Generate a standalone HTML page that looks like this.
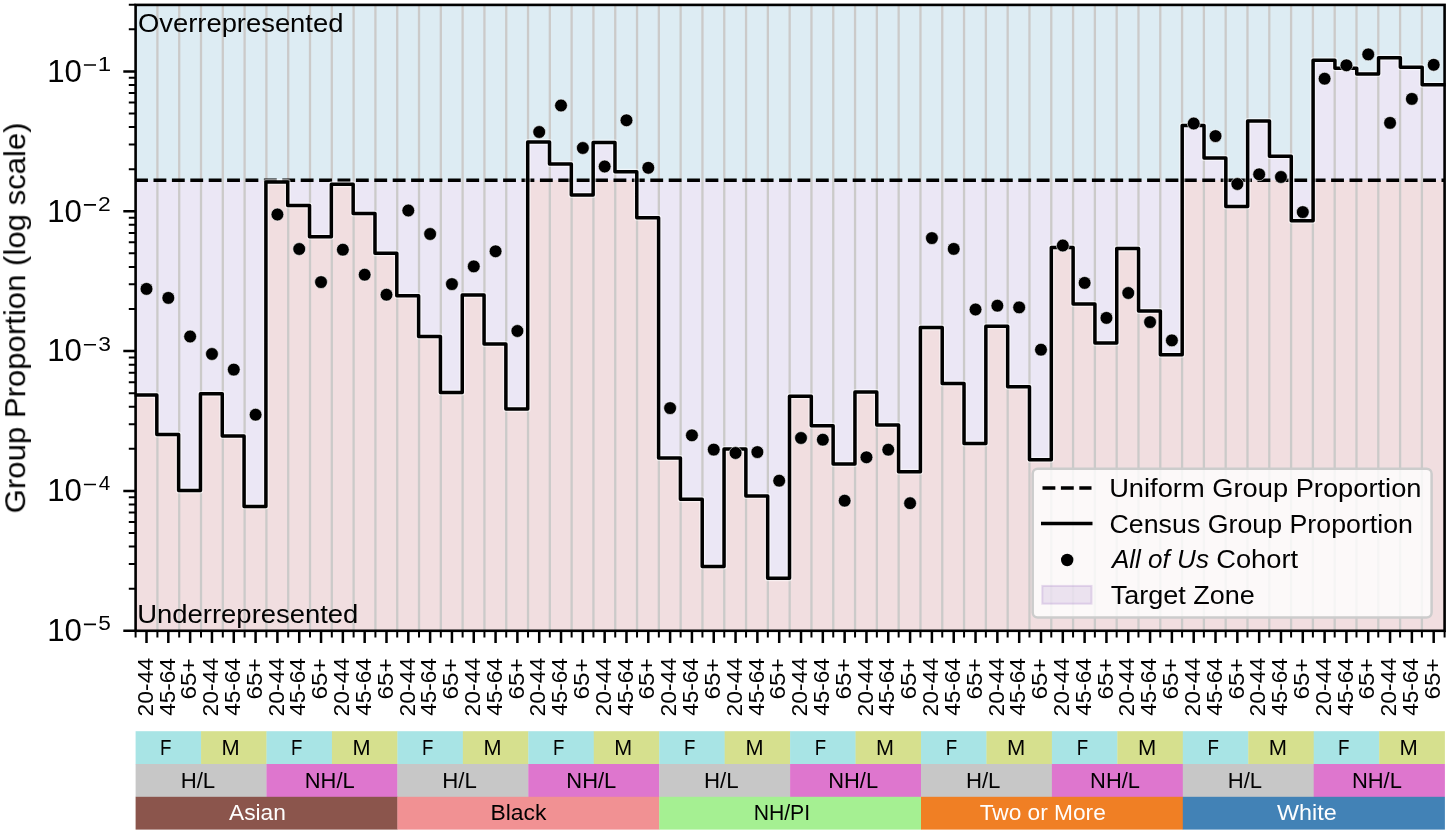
<!DOCTYPE html><html><head><meta charset="utf-8"><title>Group Proportion chart</title><style>html,body{margin:0;padding:0;background:#fff;overflow:hidden;}svg{display:block;}text{font-family:"Liberation Sans",sans-serif;}</style></head><body>
<svg width="1450" height="833" viewBox="0 0 1450 833">
<rect width="1450" height="833" fill="#ffffff"/>
<rect x="135.6" y="4.9" width="1309" height="625.9" fill="#ddecf3"/>
<path d="M135.6,630.8 L135.6,180.2 L156.82,180.2 L156.82,180.2 L178.63,180.2 L178.63,180.2 L200.45,180.2 L200.45,180.2 L222.27,180.2 L222.27,180.2 L244.08,180.2 L244.08,180.2 L265.9,180.2 L265.9,180.2 L287.72,180.2 L287.72,180.2 L309.53,180.2 L309.53,180.2 L331.35,180.2 L331.35,180.2 L353.17,180.2 L353.17,180.2 L374.98,180.2 L374.98,180.2 L396.8,180.2 L396.8,180.2 L418.62,180.2 L418.62,180.2 L440.43,180.2 L440.43,180.2 L462.25,180.2 L462.25,180.2 L484.07,180.2 L484.07,180.2 L505.88,180.2 L505.88,180.2 L527.7,180.2 L527.7,142.1 L549.52,142.1 L549.52,164 L571.33,164 L571.33,180.2 L593.15,180.2 L593.15,142.6 L614.97,142.6 L614.97,171.8 L636.78,171.8 L636.78,180.2 L658.6,180.2 L658.6,180.2 L680.42,180.2 L680.42,180.2 L702.23,180.2 L702.23,180.2 L724.05,180.2 L724.05,180.2 L745.87,180.2 L745.87,180.2 L767.68,180.2 L767.68,180.2 L789.5,180.2 L789.5,180.2 L811.32,180.2 L811.32,180.2 L833.13,180.2 L833.13,180.2 L854.95,180.2 L854.95,180.2 L876.77,180.2 L876.77,180.2 L898.58,180.2 L898.58,180.2 L920.4,180.2 L920.4,180.2 L942.22,180.2 L942.22,180.2 L964.03,180.2 L964.03,180.2 L985.85,180.2 L985.85,180.2 L1007.67,180.2 L1007.67,180.2 L1029.48,180.2 L1029.48,180.2 L1051.3,180.2 L1051.3,180.2 L1073.12,180.2 L1073.12,180.2 L1094.93,180.2 L1094.93,180.2 L1116.75,180.2 L1116.75,180.2 L1138.57,180.2 L1138.57,180.2 L1160.38,180.2 L1160.38,180.2 L1182.2,180.2 L1182.2,125.5 L1204.02,125.5 L1204.02,158 L1225.83,158 L1225.83,180.2 L1247.65,180.2 L1247.65,121 L1269.47,121 L1269.47,156.3 L1291.28,156.3 L1291.28,180.2 L1313.1,180.2 L1313.1,60.3 L1334.92,60.3 L1334.92,68.3 L1356.73,68.3 L1356.73,74 L1378.55,74 L1378.55,57.7 L1400.37,57.7 L1400.37,67.3 L1422.18,67.3 L1422.18,84.8 L1444.6,84.8 L1444.6,630.8 Z" fill="#ebe7f5"/>
<path d="M135.6,630.8 L135.6,395.1 L156.82,395.1 L156.82,434.6 L178.63,434.6 L178.63,490.6 L200.45,490.6 L200.45,393.8 L222.27,393.8 L222.27,436 L244.08,436 L244.08,506.4 L265.9,506.4 L265.9,182.1 L287.72,182.1 L287.72,205.6 L309.53,205.6 L309.53,236.7 L331.35,236.7 L331.35,184.3 L353.17,184.3 L353.17,213.4 L374.98,213.4 L374.98,253.3 L396.8,253.3 L396.8,295.8 L418.62,295.8 L418.62,336.6 L440.43,336.6 L440.43,392.5 L462.25,392.5 L462.25,295 L484.07,295 L484.07,344.1 L505.88,344.1 L505.88,409 L527.7,409 L527.7,180.2 L549.52,180.2 L549.52,180.2 L571.33,180.2 L571.33,195 L593.15,195 L593.15,180.2 L614.97,180.2 L614.97,180.2 L636.78,180.2 L636.78,217.7 L658.6,217.7 L658.6,458 L680.42,458 L680.42,499.2 L702.23,499.2 L702.23,566.6 L724.05,566.6 L724.05,449.1 L745.87,449.1 L745.87,496 L767.68,496 L767.68,578.3 L789.5,578.3 L789.5,396.3 L811.32,396.3 L811.32,425.7 L833.13,425.7 L833.13,464 L854.95,464 L854.95,392.1 L876.77,392.1 L876.77,425 L898.58,425 L898.58,471.7 L920.4,471.7 L920.4,327.5 L942.22,327.5 L942.22,383.4 L964.03,383.4 L964.03,443.4 L985.85,443.4 L985.85,326.2 L1007.67,326.2 L1007.67,386.7 L1029.48,386.7 L1029.48,459.7 L1051.3,459.7 L1051.3,247.6 L1073.12,247.6 L1073.12,304 L1094.93,304 L1094.93,343.1 L1116.75,343.1 L1116.75,248.5 L1138.57,248.5 L1138.57,311 L1160.38,311 L1160.38,354.7 L1182.2,354.7 L1182.2,180.2 L1204.02,180.2 L1204.02,180.2 L1225.83,180.2 L1225.83,206.4 L1247.65,206.4 L1247.65,180.2 L1269.47,180.2 L1269.47,180.2 L1291.28,180.2 L1291.28,220.7 L1313.1,220.7 L1313.1,180.2 L1334.92,180.2 L1334.92,180.2 L1356.73,180.2 L1356.73,180.2 L1378.55,180.2 L1378.55,180.2 L1400.37,180.2 L1400.37,180.2 L1422.18,180.2 L1422.18,180.2 L1444.6,180.2 L1444.6,630.8 Z" fill="#f1dee0"/>
<path d="M157.4,4.9V630.8M179.2,4.9V630.8M201.01,4.9V630.8M222.81,4.9V630.8M244.61,4.9V630.8M266.41,4.9V630.8M288.21,4.9V630.8M310.01,4.9V630.8M331.81,4.9V630.8M353.62,4.9V630.8M375.42,4.9V630.8M397.22,4.9V630.8M419.02,4.9V630.8M440.82,4.9V630.8M462.62,4.9V630.8M484.43,4.9V630.8M506.23,4.9V630.8M528.03,4.9V630.8M549.83,4.9V630.8M571.63,4.9V630.8M593.43,4.9V630.8M615.24,4.9V630.8M637.04,4.9V630.8M658.84,4.9V630.8M680.64,4.9V630.8M702.44,4.9V630.8M724.25,4.9V630.8M746.05,4.9V630.8M767.85,4.9V630.8M789.65,4.9V630.8M811.45,4.9V630.8M833.25,4.9V630.8M855.06,4.9V630.8M876.86,4.9V630.8M898.66,4.9V630.8M920.46,4.9V630.8M942.26,4.9V630.8M964.06,4.9V630.8M985.87,4.9V630.8M1007.67,4.9V630.8M1029.47,4.9V630.8M1051.27,4.9V630.8M1073.07,4.9V630.8M1094.87,4.9V630.8M1116.67,4.9V630.8M1138.48,4.9V630.8M1160.28,4.9V630.8M1182.08,4.9V630.8M1203.88,4.9V630.8M1225.68,4.9V630.8M1247.48,4.9V630.8M1269.29,4.9V630.8M1291.09,4.9V630.8M1312.89,4.9V630.8M1334.69,4.9V630.8M1356.49,4.9V630.8M1378.29,4.9V630.8M1400.1,4.9V630.8M1421.9,4.9V630.8" stroke="#cbcac9" stroke-width="2.3" fill="none"/>
<path d="M135.1,180.2H1444.6" stroke="#000" stroke-width="3.5" stroke-dasharray="12.85 5.55" fill="none"/>
<path d="M134.6,395.1 H156.82 V434.6 H178.63 V490.6 H200.45 V393.8 H222.27 V436 H244.08 V506.4 H265.9 V182.1 H287.72 V205.6 H309.53 V236.7 H331.35 V184.3 H353.17 V213.4 H374.98 V253.3 H396.8 V295.8 H418.62 V336.6 H440.43 V392.5 H462.25 V295 H484.07 V344.1 H505.88 V409 H527.7 V142.1 H549.52 V164 H571.33 V195 H593.15 V142.6 H614.97 V171.8 H636.78 V217.7 H658.6 V458 H680.42 V499.2 H702.23 V566.6 H724.05 V449.1 H745.87 V496 H767.68 V578.3 H789.5 V396.3 H811.32 V425.7 H833.13 V464 H854.95 V392.1 H876.77 V425 H898.58 V471.7 H920.4 V327.5 H942.22 V383.4 H964.03 V443.4 H985.85 V326.2 H1007.67 V386.7 H1029.48 V459.7 H1051.3 V247.6 H1073.12 V304 H1094.93 V343.1 H1116.75 V248.5 H1138.57 V311 H1160.38 V354.7 H1182.2 V125.5 H1204.02 V158 H1225.83 V206.4 H1247.65 V121 H1269.47 V156.3 H1291.28 V220.7 H1313.1 V60.3 H1334.92 V68.3 H1356.73 V74 H1378.55 V57.7 H1400.37 V67.3 H1422.18 V84.8 H1445.6" stroke="#ffffff" stroke-opacity="0.55" stroke-width="6" fill="none" stroke-linejoin="round"/>
<path d="M134.6,395.1 H156.82 V434.6 H178.63 V490.6 H200.45 V393.8 H222.27 V436 H244.08 V506.4 H265.9 V182.1 H287.72 V205.6 H309.53 V236.7 H331.35 V184.3 H353.17 V213.4 H374.98 V253.3 H396.8 V295.8 H418.62 V336.6 H440.43 V392.5 H462.25 V295 H484.07 V344.1 H505.88 V409 H527.7 V142.1 H549.52 V164 H571.33 V195 H593.15 V142.6 H614.97 V171.8 H636.78 V217.7 H658.6 V458 H680.42 V499.2 H702.23 V566.6 H724.05 V449.1 H745.87 V496 H767.68 V578.3 H789.5 V396.3 H811.32 V425.7 H833.13 V464 H854.95 V392.1 H876.77 V425 H898.58 V471.7 H920.4 V327.5 H942.22 V383.4 H964.03 V443.4 H985.85 V326.2 H1007.67 V386.7 H1029.48 V459.7 H1051.3 V247.6 H1073.12 V304 H1094.93 V343.1 H1116.75 V248.5 H1138.57 V311 H1160.38 V354.7 H1182.2 V125.5 H1204.02 V158 H1225.83 V206.4 H1247.65 V121 H1269.47 V156.3 H1291.28 V220.7 H1313.1 V60.3 H1334.92 V68.3 H1356.73 V74 H1378.55 V57.7 H1400.37 V67.3 H1422.18 V84.8 H1445.6" stroke="#000" stroke-width="3.5" fill="none" stroke-linejoin="round" stroke-linecap="butt"/>
<circle cx="146.51" cy="288.9" r="6.4" fill="#000" stroke="#ffffff" stroke-opacity="0.6" stroke-width="1"/>
<circle cx="168.32" cy="297.9" r="6.4" fill="#000" stroke="#ffffff" stroke-opacity="0.6" stroke-width="1"/>
<circle cx="190.14" cy="336.5" r="6.4" fill="#000" stroke="#ffffff" stroke-opacity="0.6" stroke-width="1"/>
<circle cx="211.96" cy="354" r="6.4" fill="#000" stroke="#ffffff" stroke-opacity="0.6" stroke-width="1"/>
<circle cx="233.77" cy="369.6" r="6.4" fill="#000" stroke="#ffffff" stroke-opacity="0.6" stroke-width="1"/>
<circle cx="255.59" cy="414.7" r="6.4" fill="#000" stroke="#ffffff" stroke-opacity="0.6" stroke-width="1"/>
<circle cx="277.41" cy="214.5" r="6.4" fill="#000" stroke="#ffffff" stroke-opacity="0.6" stroke-width="1"/>
<circle cx="299.23" cy="249" r="6.4" fill="#000" stroke="#ffffff" stroke-opacity="0.6" stroke-width="1"/>
<circle cx="321.04" cy="282.1" r="6.4" fill="#000" stroke="#ffffff" stroke-opacity="0.6" stroke-width="1"/>
<circle cx="342.86" cy="249.7" r="6.4" fill="#000" stroke="#ffffff" stroke-opacity="0.6" stroke-width="1"/>
<circle cx="364.67" cy="274.7" r="6.4" fill="#000" stroke="#ffffff" stroke-opacity="0.6" stroke-width="1"/>
<circle cx="386.49" cy="294.7" r="6.4" fill="#000" stroke="#ffffff" stroke-opacity="0.6" stroke-width="1"/>
<circle cx="408.31" cy="210.5" r="6.4" fill="#000" stroke="#ffffff" stroke-opacity="0.6" stroke-width="1"/>
<circle cx="430.12" cy="234" r="6.4" fill="#000" stroke="#ffffff" stroke-opacity="0.6" stroke-width="1"/>
<circle cx="451.94" cy="284.1" r="6.4" fill="#000" stroke="#ffffff" stroke-opacity="0.6" stroke-width="1"/>
<circle cx="473.76" cy="266.4" r="6.4" fill="#000" stroke="#ffffff" stroke-opacity="0.6" stroke-width="1"/>
<circle cx="495.58" cy="251.3" r="6.4" fill="#000" stroke="#ffffff" stroke-opacity="0.6" stroke-width="1"/>
<circle cx="517.39" cy="331" r="6.4" fill="#000" stroke="#ffffff" stroke-opacity="0.6" stroke-width="1"/>
<circle cx="539.21" cy="132" r="6.4" fill="#000" stroke="#ffffff" stroke-opacity="0.6" stroke-width="1"/>
<circle cx="561.02" cy="105.5" r="6.4" fill="#000" stroke="#ffffff" stroke-opacity="0.6" stroke-width="1"/>
<circle cx="582.84" cy="148" r="6.4" fill="#000" stroke="#ffffff" stroke-opacity="0.6" stroke-width="1"/>
<circle cx="604.66" cy="166.5" r="6.4" fill="#000" stroke="#ffffff" stroke-opacity="0.6" stroke-width="1"/>
<circle cx="626.48" cy="120.3" r="6.4" fill="#000" stroke="#ffffff" stroke-opacity="0.6" stroke-width="1"/>
<circle cx="648.29" cy="167.8" r="6.4" fill="#000" stroke="#ffffff" stroke-opacity="0.6" stroke-width="1"/>
<circle cx="670.11" cy="408.1" r="6.4" fill="#000" stroke="#ffffff" stroke-opacity="0.6" stroke-width="1"/>
<circle cx="691.93" cy="435.3" r="6.4" fill="#000" stroke="#ffffff" stroke-opacity="0.6" stroke-width="1"/>
<circle cx="713.74" cy="449.6" r="6.4" fill="#000" stroke="#ffffff" stroke-opacity="0.6" stroke-width="1"/>
<circle cx="735.56" cy="453" r="6.4" fill="#000" stroke="#ffffff" stroke-opacity="0.6" stroke-width="1"/>
<circle cx="757.38" cy="452.1" r="6.4" fill="#000" stroke="#ffffff" stroke-opacity="0.6" stroke-width="1"/>
<circle cx="779.19" cy="480.7" r="6.4" fill="#000" stroke="#ffffff" stroke-opacity="0.6" stroke-width="1"/>
<circle cx="801.01" cy="438" r="6.4" fill="#000" stroke="#ffffff" stroke-opacity="0.6" stroke-width="1"/>
<circle cx="822.83" cy="439.7" r="6.4" fill="#000" stroke="#ffffff" stroke-opacity="0.6" stroke-width="1"/>
<circle cx="844.64" cy="500.7" r="6.4" fill="#000" stroke="#ffffff" stroke-opacity="0.6" stroke-width="1"/>
<circle cx="866.46" cy="457.3" r="6.4" fill="#000" stroke="#ffffff" stroke-opacity="0.6" stroke-width="1"/>
<circle cx="888.27" cy="449.7" r="6.4" fill="#000" stroke="#ffffff" stroke-opacity="0.6" stroke-width="1"/>
<circle cx="910.09" cy="503.2" r="6.4" fill="#000" stroke="#ffffff" stroke-opacity="0.6" stroke-width="1"/>
<circle cx="931.91" cy="238.1" r="6.4" fill="#000" stroke="#ffffff" stroke-opacity="0.6" stroke-width="1"/>
<circle cx="953.73" cy="248.9" r="6.4" fill="#000" stroke="#ffffff" stroke-opacity="0.6" stroke-width="1"/>
<circle cx="975.54" cy="309.5" r="6.4" fill="#000" stroke="#ffffff" stroke-opacity="0.6" stroke-width="1"/>
<circle cx="997.36" cy="305.7" r="6.4" fill="#000" stroke="#ffffff" stroke-opacity="0.6" stroke-width="1"/>
<circle cx="1019.18" cy="307.4" r="6.4" fill="#000" stroke="#ffffff" stroke-opacity="0.6" stroke-width="1"/>
<circle cx="1040.99" cy="349.7" r="6.4" fill="#000" stroke="#ffffff" stroke-opacity="0.6" stroke-width="1"/>
<circle cx="1062.81" cy="245.5" r="6.4" fill="#000" stroke="#ffffff" stroke-opacity="0.6" stroke-width="1"/>
<circle cx="1084.62" cy="282.9" r="6.4" fill="#000" stroke="#ffffff" stroke-opacity="0.6" stroke-width="1"/>
<circle cx="1106.44" cy="317.9" r="6.4" fill="#000" stroke="#ffffff" stroke-opacity="0.6" stroke-width="1"/>
<circle cx="1128.26" cy="293" r="6.4" fill="#000" stroke="#ffffff" stroke-opacity="0.6" stroke-width="1"/>
<circle cx="1150.08" cy="322.1" r="6.4" fill="#000" stroke="#ffffff" stroke-opacity="0.6" stroke-width="1"/>
<circle cx="1171.89" cy="340.4" r="6.4" fill="#000" stroke="#ffffff" stroke-opacity="0.6" stroke-width="1"/>
<circle cx="1193.71" cy="123.5" r="6.4" fill="#000" stroke="#ffffff" stroke-opacity="0.6" stroke-width="1"/>
<circle cx="1215.52" cy="136.1" r="6.4" fill="#000" stroke="#ffffff" stroke-opacity="0.6" stroke-width="1"/>
<circle cx="1237.34" cy="184" r="6.4" fill="#000" stroke="#ffffff" stroke-opacity="0.6" stroke-width="1"/>
<circle cx="1259.16" cy="174.3" r="6.4" fill="#000" stroke="#ffffff" stroke-opacity="0.6" stroke-width="1"/>
<circle cx="1280.97" cy="177" r="6.4" fill="#000" stroke="#ffffff" stroke-opacity="0.6" stroke-width="1"/>
<circle cx="1302.79" cy="212.1" r="6.4" fill="#000" stroke="#ffffff" stroke-opacity="0.6" stroke-width="1"/>
<circle cx="1324.61" cy="78.7" r="6.4" fill="#000" stroke="#ffffff" stroke-opacity="0.6" stroke-width="1"/>
<circle cx="1346.42" cy="65.3" r="6.4" fill="#000" stroke="#ffffff" stroke-opacity="0.6" stroke-width="1"/>
<circle cx="1368.24" cy="54.4" r="6.4" fill="#000" stroke="#ffffff" stroke-opacity="0.6" stroke-width="1"/>
<circle cx="1390.06" cy="122.9" r="6.4" fill="#000" stroke="#ffffff" stroke-opacity="0.6" stroke-width="1"/>
<circle cx="1411.88" cy="98.9" r="6.4" fill="#000" stroke="#ffffff" stroke-opacity="0.6" stroke-width="1"/>
<circle cx="1433.69" cy="64.8" r="6.4" fill="#000" stroke="#ffffff" stroke-opacity="0.6" stroke-width="1"/>
<rect x="1032.7" y="468.7" width="398.9" height="148.9" rx="5" ry="5" fill="#ffffff" fill-opacity="0.8" stroke="#cccccc" stroke-width="2.5"/>
<path d="M1042.5,488.1H1091.5" stroke="#000" stroke-width="3.5" stroke-dasharray="12.85 5.55" fill="none"/>
<path d="M1041,523.4H1092.5" stroke="#000" stroke-width="3.5" fill="none"/>
<circle cx="1067.2" cy="560" r="6.2" fill="#000"/>
<rect x="1042.3" y="585.9" width="49.2" height="17.8" fill="#9467bd" fill-opacity="0.16" stroke="#9467bd" stroke-opacity="0.22" stroke-width="2"/>
<rect x="135.6" y="4.9" width="1309" height="625.9" fill="none" stroke="#000" stroke-width="2.6"/>
<path d="M123.3,630.8H135.6M123.3,490.95H135.6M123.3,351.1H135.6M123.3,211.25H135.6M123.3,71.4H135.6" stroke="#000" stroke-width="2.5" fill="none"/>
<path d="M128.8,588.7H135.6M128.8,564.07H135.6M128.8,546.6H135.6M128.8,533.05H135.6M128.8,521.98H135.6M128.8,512.61H135.6M128.8,504.5H135.6M128.8,497.35H135.6M128.8,448.85H135.6M128.8,424.22H135.6M128.8,406.75H135.6M128.8,393.2H135.6M128.8,382.13H135.6M128.8,372.76H135.6M128.8,364.65H135.6M128.8,357.5H135.6M128.8,309H135.6M128.8,284.37H135.6M128.8,266.9H135.6M128.8,253.35H135.6M128.8,242.28H135.6M128.8,232.91H135.6M128.8,224.8H135.6M128.8,217.65H135.6M128.8,169.15H135.6M128.8,144.52H135.6M128.8,127.05H135.6M128.8,113.5H135.6M128.8,102.43H135.6M128.8,93.06H135.6M128.8,84.95H135.6M128.8,77.8H135.6M128.8,29.3H135.6M128.8,4.67H135.6" stroke="#000" stroke-width="2" fill="none"/>
<path d="M146.51,630.8V643M168.32,630.8V643M190.14,630.8V643M211.96,630.8V643M233.77,630.8V643M255.59,630.8V643M277.41,630.8V643M299.23,630.8V643M321.04,630.8V643M342.86,630.8V643M364.67,630.8V643M386.49,630.8V643M408.31,630.8V643M430.12,630.8V643M451.94,630.8V643M473.76,630.8V643M495.58,630.8V643M517.39,630.8V643M539.21,630.8V643M561.02,630.8V643M582.84,630.8V643M604.66,630.8V643M626.48,630.8V643M648.29,630.8V643M670.11,630.8V643M691.93,630.8V643M713.74,630.8V643M735.56,630.8V643M757.38,630.8V643M779.19,630.8V643M801.01,630.8V643M822.83,630.8V643M844.64,630.8V643M866.46,630.8V643M888.27,630.8V643M910.09,630.8V643M931.91,630.8V643M953.73,630.8V643M975.54,630.8V643M997.36,630.8V643M1019.18,630.8V643M1040.99,630.8V643M1062.81,630.8V643M1084.62,630.8V643M1106.44,630.8V643M1128.26,630.8V643M1150.08,630.8V643M1171.89,630.8V643M1193.71,630.8V643M1215.52,630.8V643M1237.34,630.8V643M1259.16,630.8V643M1280.97,630.8V643M1302.79,630.8V643M1324.61,630.8V643M1346.42,630.8V643M1368.24,630.8V643M1390.06,630.8V643M1411.88,630.8V643M1433.69,630.8V643" stroke="#000" stroke-width="2.5" fill="none"/>
<path d="M135.6,630.8V637.6M157.4,630.8V637.6M179.2,630.8V637.6M201.01,630.8V637.6M222.81,630.8V637.6M244.61,630.8V637.6M266.41,630.8V637.6M288.21,630.8V637.6M310.01,630.8V637.6M331.81,630.8V637.6M353.62,630.8V637.6M375.42,630.8V637.6M397.22,630.8V637.6M419.02,630.8V637.6M440.82,630.8V637.6M462.62,630.8V637.6M484.43,630.8V637.6M506.23,630.8V637.6M528.03,630.8V637.6M549.83,630.8V637.6M571.63,630.8V637.6M593.43,630.8V637.6M615.24,630.8V637.6M637.04,630.8V637.6M658.84,630.8V637.6M680.64,630.8V637.6M702.44,630.8V637.6M724.25,630.8V637.6M746.05,630.8V637.6M767.85,630.8V637.6M789.65,630.8V637.6M811.45,630.8V637.6M833.25,630.8V637.6M855.06,630.8V637.6M876.86,630.8V637.6M898.66,630.8V637.6M920.46,630.8V637.6M942.26,630.8V637.6M964.06,630.8V637.6M985.87,630.8V637.6M1007.67,630.8V637.6M1029.47,630.8V637.6M1051.27,630.8V637.6M1073.07,630.8V637.6M1094.87,630.8V637.6M1116.67,630.8V637.6M1138.48,630.8V637.6M1160.28,630.8V637.6M1182.08,630.8V637.6M1203.88,630.8V637.6M1225.68,630.8V637.6M1247.48,630.8V637.6M1269.29,630.8V637.6M1291.09,630.8V637.6M1312.89,630.8V637.6M1334.69,630.8V637.6M1356.49,630.8V637.6M1378.29,630.8V637.6M1400.1,630.8V637.6M1421.9,630.8V637.6M1444.6,630.8V637.6" stroke="#000" stroke-width="2" fill="none"/>
<path d="M83.9,624.4H96M83.9,484.55H96M83.9,344.7H96M83.9,204.85H96M83.9,65H96" stroke="#000" stroke-width="1.6" fill="none"/>
<rect x="135.6" y="731.2" width="65.75" height="33.1" fill="#a8e4e5"/>
<rect x="201.05" y="731.2" width="65.75" height="33.1" fill="#d6e08e"/>
<rect x="266.5" y="731.2" width="65.75" height="33.1" fill="#a8e4e5"/>
<rect x="331.95" y="731.2" width="65.75" height="33.1" fill="#d6e08e"/>
<rect x="397.4" y="731.2" width="65.75" height="33.1" fill="#a8e4e5"/>
<rect x="462.85" y="731.2" width="65.75" height="33.1" fill="#d6e08e"/>
<rect x="528.3" y="731.2" width="65.75" height="33.1" fill="#a8e4e5"/>
<rect x="593.75" y="731.2" width="65.75" height="33.1" fill="#d6e08e"/>
<rect x="659.2" y="731.2" width="65.75" height="33.1" fill="#a8e4e5"/>
<rect x="724.65" y="731.2" width="65.75" height="33.1" fill="#d6e08e"/>
<rect x="790.1" y="731.2" width="65.75" height="33.1" fill="#a8e4e5"/>
<rect x="855.55" y="731.2" width="65.75" height="33.1" fill="#d6e08e"/>
<rect x="921" y="731.2" width="65.75" height="33.1" fill="#a8e4e5"/>
<rect x="986.45" y="731.2" width="65.75" height="33.1" fill="#d6e08e"/>
<rect x="1051.9" y="731.2" width="65.75" height="33.1" fill="#a8e4e5"/>
<rect x="1117.35" y="731.2" width="65.75" height="33.1" fill="#d6e08e"/>
<rect x="1182.8" y="731.2" width="65.75" height="33.1" fill="#a8e4e5"/>
<rect x="1248.25" y="731.2" width="65.75" height="33.1" fill="#d6e08e"/>
<rect x="1313.7" y="731.2" width="65.75" height="33.1" fill="#a8e4e5"/>
<rect x="1379.15" y="731.2" width="65.75" height="33.1" fill="#d6e08e"/>
<rect x="135.6" y="764" width="131.2" height="33.1" fill="#c7c7c7"/>
<rect x="266.5" y="764" width="131.2" height="33.1" fill="#de76ce"/>
<rect x="397.4" y="764" width="131.2" height="33.1" fill="#c7c7c7"/>
<rect x="528.3" y="764" width="131.2" height="33.1" fill="#de76ce"/>
<rect x="659.2" y="764" width="131.2" height="33.1" fill="#c7c7c7"/>
<rect x="790.1" y="764" width="131.2" height="33.1" fill="#de76ce"/>
<rect x="921" y="764" width="131.2" height="33.1" fill="#c7c7c7"/>
<rect x="1051.9" y="764" width="131.2" height="33.1" fill="#de76ce"/>
<rect x="1182.8" y="764" width="131.2" height="33.1" fill="#c7c7c7"/>
<rect x="1313.7" y="764" width="131.2" height="33.1" fill="#de76ce"/>
<rect x="135.6" y="796.8" width="262.1" height="32.8" fill="#8b554c"/>
<rect x="397.4" y="796.8" width="262.1" height="32.8" fill="#f19193"/>
<rect x="659.2" y="796.8" width="262.1" height="32.8" fill="#a5f092"/>
<rect x="921" y="796.8" width="262.1" height="32.8" fill="#f07f24"/>
<rect x="1182.8" y="796.8" width="262.1" height="32.8" fill="#4282b6"/>
<g opacity="0.995">
<text x="138" y="32" font-size="25.73" textLength="205.39" lengthAdjust="spacingAndGlyphs" fill="#000">Overrepresented</text>
<text x="137.31" y="623.1" font-size="25.73" textLength="221.06" lengthAdjust="spacingAndGlyphs" fill="#000">Underrepresented</text>
<text x="1109.17" y="496.9" font-size="25.73" textLength="312.38" lengthAdjust="spacingAndGlyphs" fill="#000">Uniform Group Proportion</text>
<text x="1109.54" y="532.6" font-size="25.73" textLength="303.46" lengthAdjust="spacingAndGlyphs" fill="#000">Census Group Proportion</text>
<text x="1111.93" y="568.2" font-size="25.73" textLength="97" lengthAdjust="spacingAndGlyphs" fill="#000" font-style="italic">All of Us</text>
<text x="1216.21" y="568.2" font-size="25.73" textLength="81.86" lengthAdjust="spacingAndGlyphs" fill="#000">Cohort</text>
<text x="1110.8" y="603.8" font-size="25.73" textLength="144.06" lengthAdjust="spacingAndGlyphs" fill="#000">Target Zone</text>
<text transform="translate(25.2,513.35) rotate(-90)" font-size="29.68" textLength="390.93" lengthAdjust="spacingAndGlyphs" fill="#000">Group Proportion (log scale)</text>
<text x="47.21" y="641.1" font-size="30.66" textLength="34.7" lengthAdjust="spacingAndGlyphs" fill="#000">10</text>
<text x="98.2" y="630.3" font-size="20.78" textLength="12.62" lengthAdjust="spacingAndGlyphs" fill="#000">5</text>
<text x="47.21" y="501.25" font-size="30.66" textLength="34.7" lengthAdjust="spacingAndGlyphs" fill="#000">10</text>
<text x="98.73" y="490.45" font-size="20.78" textLength="11.55" lengthAdjust="spacingAndGlyphs" fill="#000">4</text>
<text x="47.21" y="361.4" font-size="30.66" textLength="34.7" lengthAdjust="spacingAndGlyphs" fill="#000">10</text>
<text x="98.18" y="350.6" font-size="20.78" textLength="12.71" lengthAdjust="spacingAndGlyphs" fill="#000">3</text>
<text x="47.21" y="221.55" font-size="30.66" textLength="34.7" lengthAdjust="spacingAndGlyphs" fill="#000">10</text>
<text x="98.11" y="210.75" font-size="20.78" textLength="12.74" lengthAdjust="spacingAndGlyphs" fill="#000">2</text>
<text x="47.21" y="81.7" font-size="30.66" textLength="34.7" lengthAdjust="spacingAndGlyphs" fill="#000">10</text>
<text x="97.66" y="70.9" font-size="20.78" textLength="13.41" lengthAdjust="spacingAndGlyphs" fill="#000">1</text>
<text transform="translate(152.71,716.46) rotate(-90)" font-size="21.2" textLength="58.68" lengthAdjust="spacingAndGlyphs" fill="#000">20-44</text>
<text transform="translate(174.53,715.86) rotate(-90)" font-size="21.2" textLength="57.68" lengthAdjust="spacingAndGlyphs" fill="#000">45-64</text>
<text transform="translate(196.34,699.4) rotate(-90)" font-size="21.2" textLength="40.98" lengthAdjust="spacingAndGlyphs" fill="#000">65+</text>
<text transform="translate(218.16,716.46) rotate(-90)" font-size="21.2" textLength="58.68" lengthAdjust="spacingAndGlyphs" fill="#000">20-44</text>
<text transform="translate(239.97,715.86) rotate(-90)" font-size="21.2" textLength="57.68" lengthAdjust="spacingAndGlyphs" fill="#000">45-64</text>
<text transform="translate(261.79,699.4) rotate(-90)" font-size="21.2" textLength="40.98" lengthAdjust="spacingAndGlyphs" fill="#000">65+</text>
<text transform="translate(283.61,716.46) rotate(-90)" font-size="21.2" textLength="58.68" lengthAdjust="spacingAndGlyphs" fill="#000">20-44</text>
<text transform="translate(305.43,715.86) rotate(-90)" font-size="21.2" textLength="57.68" lengthAdjust="spacingAndGlyphs" fill="#000">45-64</text>
<text transform="translate(327.24,699.4) rotate(-90)" font-size="21.2" textLength="40.98" lengthAdjust="spacingAndGlyphs" fill="#000">65+</text>
<text transform="translate(349.06,716.46) rotate(-90)" font-size="21.2" textLength="58.68" lengthAdjust="spacingAndGlyphs" fill="#000">20-44</text>
<text transform="translate(370.87,715.86) rotate(-90)" font-size="21.2" textLength="57.68" lengthAdjust="spacingAndGlyphs" fill="#000">45-64</text>
<text transform="translate(392.69,699.4) rotate(-90)" font-size="21.2" textLength="40.98" lengthAdjust="spacingAndGlyphs" fill="#000">65+</text>
<text transform="translate(414.51,716.46) rotate(-90)" font-size="21.2" textLength="58.68" lengthAdjust="spacingAndGlyphs" fill="#000">20-44</text>
<text transform="translate(436.32,715.86) rotate(-90)" font-size="21.2" textLength="57.68" lengthAdjust="spacingAndGlyphs" fill="#000">45-64</text>
<text transform="translate(458.14,699.4) rotate(-90)" font-size="21.2" textLength="40.98" lengthAdjust="spacingAndGlyphs" fill="#000">65+</text>
<text transform="translate(479.96,716.46) rotate(-90)" font-size="21.2" textLength="58.68" lengthAdjust="spacingAndGlyphs" fill="#000">20-44</text>
<text transform="translate(501.78,715.86) rotate(-90)" font-size="21.2" textLength="57.68" lengthAdjust="spacingAndGlyphs" fill="#000">45-64</text>
<text transform="translate(523.59,699.4) rotate(-90)" font-size="21.2" textLength="40.98" lengthAdjust="spacingAndGlyphs" fill="#000">65+</text>
<text transform="translate(545.41,716.46) rotate(-90)" font-size="21.2" textLength="58.68" lengthAdjust="spacingAndGlyphs" fill="#000">20-44</text>
<text transform="translate(567.22,715.86) rotate(-90)" font-size="21.2" textLength="57.68" lengthAdjust="spacingAndGlyphs" fill="#000">45-64</text>
<text transform="translate(589.04,699.4) rotate(-90)" font-size="21.2" textLength="40.98" lengthAdjust="spacingAndGlyphs" fill="#000">65+</text>
<text transform="translate(610.86,716.46) rotate(-90)" font-size="21.2" textLength="58.68" lengthAdjust="spacingAndGlyphs" fill="#000">20-44</text>
<text transform="translate(632.67,715.86) rotate(-90)" font-size="21.2" textLength="57.68" lengthAdjust="spacingAndGlyphs" fill="#000">45-64</text>
<text transform="translate(654.49,699.4) rotate(-90)" font-size="21.2" textLength="40.98" lengthAdjust="spacingAndGlyphs" fill="#000">65+</text>
<text transform="translate(676.31,716.46) rotate(-90)" font-size="21.2" textLength="58.68" lengthAdjust="spacingAndGlyphs" fill="#000">20-44</text>
<text transform="translate(698.12,715.86) rotate(-90)" font-size="21.2" textLength="57.68" lengthAdjust="spacingAndGlyphs" fill="#000">45-64</text>
<text transform="translate(719.94,699.4) rotate(-90)" font-size="21.2" textLength="40.98" lengthAdjust="spacingAndGlyphs" fill="#000">65+</text>
<text transform="translate(741.76,716.46) rotate(-90)" font-size="21.2" textLength="58.68" lengthAdjust="spacingAndGlyphs" fill="#000">20-44</text>
<text transform="translate(763.57,715.86) rotate(-90)" font-size="21.2" textLength="57.68" lengthAdjust="spacingAndGlyphs" fill="#000">45-64</text>
<text transform="translate(785.39,699.4) rotate(-90)" font-size="21.2" textLength="40.98" lengthAdjust="spacingAndGlyphs" fill="#000">65+</text>
<text transform="translate(807.21,716.46) rotate(-90)" font-size="21.2" textLength="58.68" lengthAdjust="spacingAndGlyphs" fill="#000">20-44</text>
<text transform="translate(829.02,715.86) rotate(-90)" font-size="21.2" textLength="57.68" lengthAdjust="spacingAndGlyphs" fill="#000">45-64</text>
<text transform="translate(850.84,699.4) rotate(-90)" font-size="21.2" textLength="40.98" lengthAdjust="spacingAndGlyphs" fill="#000">65+</text>
<text transform="translate(872.66,716.46) rotate(-90)" font-size="21.2" textLength="58.68" lengthAdjust="spacingAndGlyphs" fill="#000">20-44</text>
<text transform="translate(894.47,715.86) rotate(-90)" font-size="21.2" textLength="57.68" lengthAdjust="spacingAndGlyphs" fill="#000">45-64</text>
<text transform="translate(916.29,699.4) rotate(-90)" font-size="21.2" textLength="40.98" lengthAdjust="spacingAndGlyphs" fill="#000">65+</text>
<text transform="translate(938.11,716.46) rotate(-90)" font-size="21.2" textLength="58.68" lengthAdjust="spacingAndGlyphs" fill="#000">20-44</text>
<text transform="translate(959.92,715.86) rotate(-90)" font-size="21.2" textLength="57.68" lengthAdjust="spacingAndGlyphs" fill="#000">45-64</text>
<text transform="translate(981.74,699.4) rotate(-90)" font-size="21.2" textLength="40.98" lengthAdjust="spacingAndGlyphs" fill="#000">65+</text>
<text transform="translate(1003.56,716.46) rotate(-90)" font-size="21.2" textLength="58.68" lengthAdjust="spacingAndGlyphs" fill="#000">20-44</text>
<text transform="translate(1025.38,715.86) rotate(-90)" font-size="21.2" textLength="57.68" lengthAdjust="spacingAndGlyphs" fill="#000">45-64</text>
<text transform="translate(1047.19,699.4) rotate(-90)" font-size="21.2" textLength="40.98" lengthAdjust="spacingAndGlyphs" fill="#000">65+</text>
<text transform="translate(1069.01,716.46) rotate(-90)" font-size="21.2" textLength="58.68" lengthAdjust="spacingAndGlyphs" fill="#000">20-44</text>
<text transform="translate(1090.83,715.86) rotate(-90)" font-size="21.2" textLength="57.68" lengthAdjust="spacingAndGlyphs" fill="#000">45-64</text>
<text transform="translate(1112.64,699.4) rotate(-90)" font-size="21.2" textLength="40.98" lengthAdjust="spacingAndGlyphs" fill="#000">65+</text>
<text transform="translate(1134.46,716.46) rotate(-90)" font-size="21.2" textLength="58.68" lengthAdjust="spacingAndGlyphs" fill="#000">20-44</text>
<text transform="translate(1156.28,715.86) rotate(-90)" font-size="21.2" textLength="57.68" lengthAdjust="spacingAndGlyphs" fill="#000">45-64</text>
<text transform="translate(1178.09,699.4) rotate(-90)" font-size="21.2" textLength="40.98" lengthAdjust="spacingAndGlyphs" fill="#000">65+</text>
<text transform="translate(1199.91,716.46) rotate(-90)" font-size="21.2" textLength="58.68" lengthAdjust="spacingAndGlyphs" fill="#000">20-44</text>
<text transform="translate(1221.72,715.86) rotate(-90)" font-size="21.2" textLength="57.68" lengthAdjust="spacingAndGlyphs" fill="#000">45-64</text>
<text transform="translate(1243.54,699.4) rotate(-90)" font-size="21.2" textLength="40.98" lengthAdjust="spacingAndGlyphs" fill="#000">65+</text>
<text transform="translate(1265.36,716.46) rotate(-90)" font-size="21.2" textLength="58.68" lengthAdjust="spacingAndGlyphs" fill="#000">20-44</text>
<text transform="translate(1287.17,715.86) rotate(-90)" font-size="21.2" textLength="57.68" lengthAdjust="spacingAndGlyphs" fill="#000">45-64</text>
<text transform="translate(1308.99,699.4) rotate(-90)" font-size="21.2" textLength="40.98" lengthAdjust="spacingAndGlyphs" fill="#000">65+</text>
<text transform="translate(1330.81,716.46) rotate(-90)" font-size="21.2" textLength="58.68" lengthAdjust="spacingAndGlyphs" fill="#000">20-44</text>
<text transform="translate(1352.62,715.86) rotate(-90)" font-size="21.2" textLength="57.68" lengthAdjust="spacingAndGlyphs" fill="#000">45-64</text>
<text transform="translate(1374.44,699.4) rotate(-90)" font-size="21.2" textLength="40.98" lengthAdjust="spacingAndGlyphs" fill="#000">65+</text>
<text transform="translate(1396.26,716.46) rotate(-90)" font-size="21.2" textLength="58.68" lengthAdjust="spacingAndGlyphs" fill="#000">20-44</text>
<text transform="translate(1418.08,715.86) rotate(-90)" font-size="21.2" textLength="57.68" lengthAdjust="spacingAndGlyphs" fill="#000">45-64</text>
<text transform="translate(1439.89,699.4) rotate(-90)" font-size="21.2" textLength="40.98" lengthAdjust="spacingAndGlyphs" fill="#000">65+</text>
<text x="160.01" y="754.7" font-size="22.26" textLength="11.46" lengthAdjust="spacingAndGlyphs" fill="#000">F</text>
<text x="221.52" y="754.7" font-size="22.26" textLength="18.18" lengthAdjust="spacingAndGlyphs" fill="#000">M</text>
<text x="291.11" y="754.7" font-size="22.26" textLength="11.37" lengthAdjust="spacingAndGlyphs" fill="#000">F</text>
<text x="352.41" y="754.7" font-size="22.26" textLength="18.09" lengthAdjust="spacingAndGlyphs" fill="#000">M</text>
<text x="421.91" y="754.7" font-size="22.26" textLength="11.38" lengthAdjust="spacingAndGlyphs" fill="#000">F</text>
<text x="483.56" y="754.7" font-size="22.26" textLength="18.07" lengthAdjust="spacingAndGlyphs" fill="#000">M</text>
<text x="553.05" y="754.7" font-size="22.26" textLength="11.4" lengthAdjust="spacingAndGlyphs" fill="#000">F</text>
<text x="614.36" y="754.7" font-size="22.26" textLength="17.93" lengthAdjust="spacingAndGlyphs" fill="#000">M</text>
<text x="683.91" y="754.7" font-size="22.26" textLength="11.39" lengthAdjust="spacingAndGlyphs" fill="#000">F</text>
<text x="745.38" y="754.7" font-size="22.26" textLength="18.07" lengthAdjust="spacingAndGlyphs" fill="#000">M</text>
<text x="814.87" y="754.7" font-size="22.26" textLength="11.38" lengthAdjust="spacingAndGlyphs" fill="#000">F</text>
<text x="876.09" y="754.7" font-size="22.26" textLength="17.98" lengthAdjust="spacingAndGlyphs" fill="#000">M</text>
<text x="945.72" y="754.7" font-size="22.26" textLength="11.45" lengthAdjust="spacingAndGlyphs" fill="#000">F</text>
<text x="1007.08" y="754.7" font-size="22.26" textLength="18.27" lengthAdjust="spacingAndGlyphs" fill="#000">M</text>
<text x="1076.64" y="754.7" font-size="22.26" textLength="11.46" lengthAdjust="spacingAndGlyphs" fill="#000">F</text>
<text x="1137.91" y="754.7" font-size="22.26" textLength="18.25" lengthAdjust="spacingAndGlyphs" fill="#000">M</text>
<text x="1207.38" y="754.7" font-size="22.26" textLength="11.47" lengthAdjust="spacingAndGlyphs" fill="#000">F</text>
<text x="1268.69" y="754.7" font-size="22.26" textLength="18.25" lengthAdjust="spacingAndGlyphs" fill="#000">M</text>
<text x="1338.11" y="754.7" font-size="22.26" textLength="11.48" lengthAdjust="spacingAndGlyphs" fill="#000">F</text>
<text x="1399.59" y="754.7" font-size="22.26" textLength="18.3" lengthAdjust="spacingAndGlyphs" fill="#000">M</text>
<text x="180.63" y="788.1" font-size="22.26" textLength="34.51" lengthAdjust="spacingAndGlyphs" fill="#000">H/L</text>
<text x="304.82" y="788.1" font-size="22.26" textLength="49.88" lengthAdjust="spacingAndGlyphs" fill="#000">NH/L</text>
<text x="442.25" y="788.1" font-size="22.26" textLength="34.56" lengthAdjust="spacingAndGlyphs" fill="#000">H/L</text>
<text x="566.34" y="788.1" font-size="22.26" textLength="49.96" lengthAdjust="spacingAndGlyphs" fill="#000">NH/L</text>
<text x="703.94" y="788.1" font-size="22.26" textLength="34.6" lengthAdjust="spacingAndGlyphs" fill="#000">H/L</text>
<text x="828.25" y="788.1" font-size="22.26" textLength="49.85" lengthAdjust="spacingAndGlyphs" fill="#000">NH/L</text>
<text x="965.88" y="788.1" font-size="22.26" textLength="34.55" lengthAdjust="spacingAndGlyphs" fill="#000">H/L</text>
<text x="1090.1" y="788.1" font-size="22.26" textLength="49.88" lengthAdjust="spacingAndGlyphs" fill="#000">NH/L</text>
<text x="1227.79" y="788.1" font-size="22.26" textLength="34.32" lengthAdjust="spacingAndGlyphs" fill="#000">H/L</text>
<text x="1351.94" y="788.1" font-size="22.26" textLength="49.95" lengthAdjust="spacingAndGlyphs" fill="#000">NH/L</text>
<text x="229.06" y="819.8" font-size="22.26" textLength="56.87" lengthAdjust="spacingAndGlyphs" fill="#ffffff">Asian</text>
<text x="490.46" y="819.8" font-size="22.26" textLength="55.92" lengthAdjust="spacingAndGlyphs" fill="#000000">Black</text>
<text x="753.64" y="819.8" font-size="22.26" textLength="56.5" lengthAdjust="spacingAndGlyphs" fill="#000000">NH/PI</text>
<text x="979.66" y="819.8" font-size="22.26" textLength="126.15" lengthAdjust="spacingAndGlyphs" fill="#ffffff">Two or More</text>
<text x="1277.01" y="819.8" font-size="22.26" textLength="59.73" lengthAdjust="spacingAndGlyphs" fill="#ffffff">White</text>
</g>
</svg></body></html>
